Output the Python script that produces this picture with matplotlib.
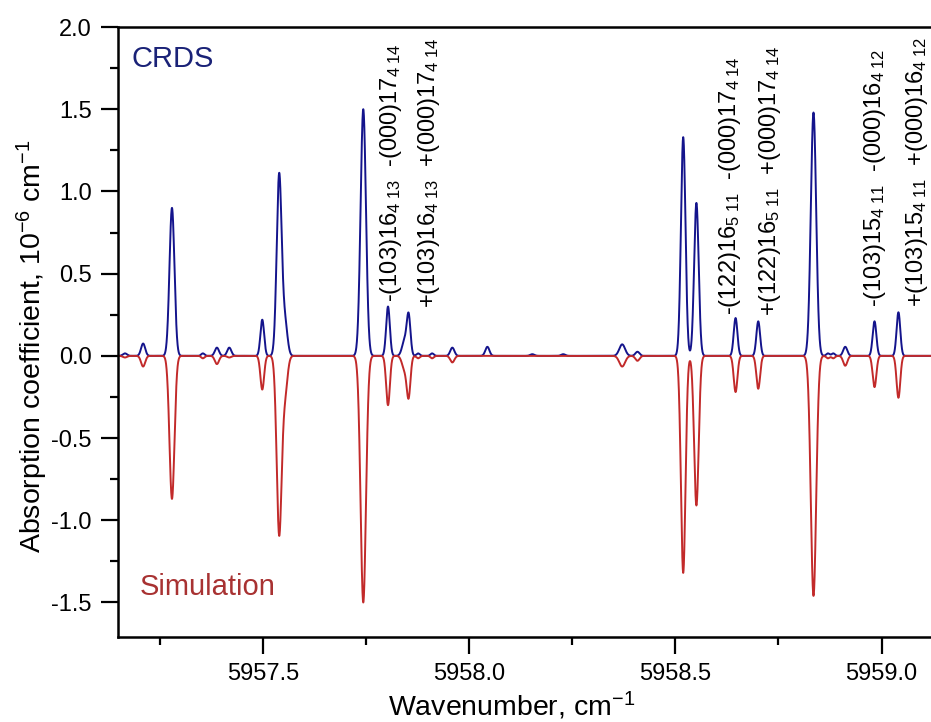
import numpy as np
import matplotlib
matplotlib.use("Agg")
import matplotlib.pyplot as plt
from matplotlib.ticker import MultipleLocator, FormatStrFormatter

plt.rcParams['font.family'] = 'Liberation Sans'
plt.rcParams['mathtext.fontset'] = 'custom'
plt.rcParams['mathtext.rm'] = 'Liberation Sans'
plt.rcParams['mathtext.it'] = 'Liberation Sans'
plt.rcParams['axes.unicode_minus'] = False

# line list: centre (cm-1), CRDS peak, simulated peak (drawn inverted), width
line_centers = [5957.165, 5957.209, 5957.279, 5957.354, 5957.388, 5957.418, 5957.498,
                5957.539, 5957.553, 5957.743, 5957.803, 5957.843, 5957.853, 5957.876,
                5957.910, 5957.959, 5958.044, 5958.153, 5958.228, 5958.371, 5958.408,
                5958.519, 5958.551, 5958.646, 5958.701, 5958.835, 5958.870, 5958.883,
                5958.912, 5958.983, 5959.041]
crds_heights = [0.015, 0.075, 0.90, 0.015, 0.05, 0.05, 0.22,
                1.10, 0.20, 1.50, 0.30, 0.09, 0.24, 0.015,
                0.015, 0.05, 0.055, 0.01, 0.01, 0.07, 0.025,
                1.33, 0.93, 0.23, 0.21, 1.48, 0.015, 0.015,
                0.055, 0.21, 0.265]
sim_depths = [0.01, 0.065, 0.87, 0.015, 0.05, 0.01, 0.205,
              1.08, 0.22, 1.50, 0.30, 0.08, 0.24, 0.015,
              0.015, 0.04, 0.0, 0.0, 0.0, 0.065, 0.03,
              1.32, 0.91, 0.22, 0.20, 1.46, 0.015, 0.015,
              0.06, 0.19, 0.255]
line_widths = [0.005, 0.005, 0.006, 0.004, 0.005, 0.005, 0.0045,
               0.006, 0.006, 0.0065, 0.0045, 0.006, 0.0045, 0.004,
               0.004, 0.005, 0.005, 0.005, 0.005, 0.007, 0.005,
               0.0055, 0.0055, 0.0045, 0.0045, 0.0065, 0.004, 0.004,
               0.005, 0.0045, 0.0045]

labels = [r"-(103)16$_{4\ 13}$  -(000)17$_{4\ 14}$",
          r"+(103)16$_{4\ 13}$  +(000)17$_{4\ 14}$",
          r"-(122)16$_{5\ 11}$  -(000)17$_{4\ 14}$",
          r"+(122)16$_{5\ 11}$  +(000)17$_{4\ 14}$",
          r"-(103)15$_{4\ 11}$  -(000)16$_{4\ 12}$",
          r"+(103)15$_{4\ 11}$  +(000)16$_{4\ 12}$"]
label_x = [5957.825, 5957.917, 5958.646, 5958.743, 5958.998, 5959.100]
label_y = [0.33, 0.29, 0.25, 0.24, 0.30, 0.30]

wn = np.linspace(5957.10, 5959.20, 8000)
crds = np.zeros_like(wn)
sim = np.zeros_like(wn)
for c, h, d, w in zip(line_centers, crds_heights, sim_depths, line_widths):
    g = np.exp(-0.5 * ((wn - c) / w) ** 2)
    crds += h * g
    sim -= d * g

fig = plt.figure(figsize=(9.31, 7.22), dpi=100)
ax = fig.add_axes([0.1267, 0.1177, 0.8733, 0.8449])

ax.plot(wn, crds, color='#14148c', lw=1.4)
ax.plot(wn, sim, color='#c22a2a', lw=1.4)

ax.set_xlim(5957.148, 5959.12)
ax.set_ylim(-1.71, 2.0)
ax.xaxis.set_major_locator(MultipleLocator(0.5))
ax.xaxis.set_minor_locator(MultipleLocator(0.25))
ax.yaxis.set_major_locator(MultipleLocator(0.5))
ax.yaxis.set_minor_locator(MultipleLocator(0.25))
ax.xaxis.set_major_formatter(FormatStrFormatter('%.1f'))
ax.yaxis.set_major_formatter(FormatStrFormatter('%.1f'))
ax.tick_params(which='major', direction='out', length=12, width=1.6, labelsize=17, pad=7)
ax.tick_params(which='minor', direction='out', length=6, width=1.6)
ax.tick_params(top=False, right=False, which='both')
for s in ['left', 'top', 'bottom']:
    ax.spines[s].set_linewidth(1.8)
ax.spines['right'].set_visible(False)

ax.set_xlabel(r"Wavenumber, cm$^{-1}$", fontsize=20.5)
ax.set_ylabel(r"Absorption coefficient, 10$^{-6}$ cm$^{-1}$", fontsize=20.5)
ax.xaxis.set_label_coords(0.4846, -0.086)
ax.yaxis.set_label_coords(-0.083, 0.477)

ax.text(5957.182, 1.754, "CRDS", color='#1a2277', fontsize=21, va='baseline')
ax.text(5957.201, -1.456, "Simulation", color='#a83232', fontsize=21, va='baseline')

for t, x, y in zip(labels, label_x, label_y):
    ax.text(x, y, t, rotation=90, rotation_mode='anchor', ha='left', va='baseline',
            fontsize=17, color='black')

fig.savefig("out.png", dpi=100)
